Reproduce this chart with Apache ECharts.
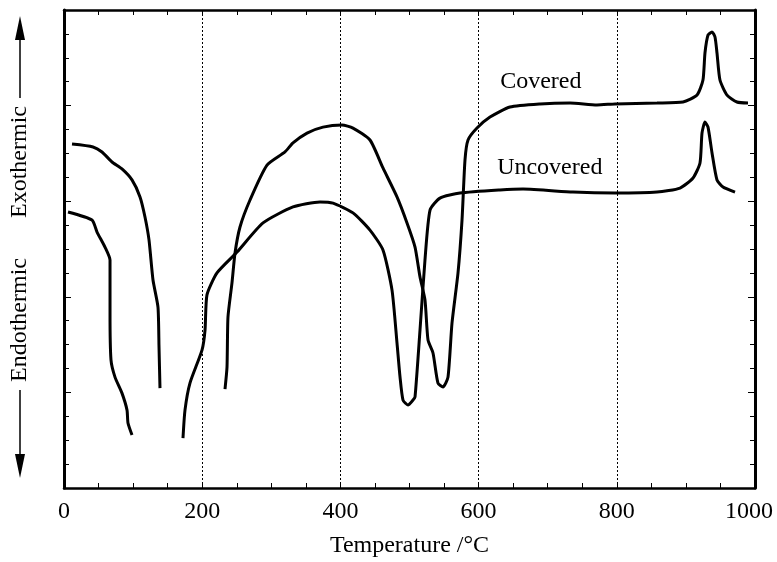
<!DOCTYPE html>
<html>
<head>
<meta charset="utf-8">
<script src="https://cdn.jsdelivr.net/npm/echarts@6/dist/echarts.min.js"></script>
<style>
  html, body { margin: 0; padding: 0; background: #fff; }
  #chart { width: 777px; height: 562px; }
</style>
</head>
<body>
<div id="chart"></div>
<script>
// DTA curves: [temperature °C, signal (arbitrary units)]
const coveredLow = [
  [11.6, 14.39], [42, 14.27], [55, 14.06], [69.5, 13.64], [83.9, 13.35],
  [98.4, 12.89], [110, 12.18], [117.2, 11.34], [123, 10.38], [128.8, 8.7],
  [136, 7.57], [137.5, 5.9], [138.9, 4.18]
];
const coveredHigh = [
  [233, 4.14], [235.9, 5.06], [237.3, 7.15], [243.1, 8.58], [247.5, 9.83],
  [254.7, 10.92], [269.2, 12.05], [293.8, 13.51], [319.8, 14.06], [331.4, 14.44],
  [351.7, 14.85], [374.8, 15.1], [402.3, 15.19], [418.2, 15.06], [442.8, 14.56],
  [461.6, 13.39], [481.9, 12.18], [496.4, 11.09], [508, 10.08], [515.2, 8.83],
  [522.4, 7.87], [526.8, 6.19], [534, 5.65], [541.2, 4.39], [548.5, 4.23],
  [555.7, 4.64], [561.5, 6.9], [570.2, 9.0], [576, 11.21], [580.3, 13.72],
  [584.7, 14.56], [597.7, 15.06], [616.5, 15.52], [645.4, 15.94], [688.9, 16.07],
  [732.3, 16.11], [771.3, 16.03], [797.4, 16.07], [858.2, 16.11], [895.8, 16.15],
  [916.1, 16.44], [924.7, 17.07], [927.6, 18.2], [932, 18.95], [937.8, 19.08],
  [942.1, 18.87], [945, 18.2], [949.3, 17.07], [959.5, 16.44], [973.9, 16.15],
  [989.9, 16.11]
];
const uncoveredLow = [
  [5.8, 11.55], [40.5, 11.21], [47.8, 10.71], [59.3, 10.08], [66.6, 9.54],
  [66.6, 7.32], [68, 5.36], [73.8, 4.64], [83.9, 3.97], [91.2, 3.26],
  [92.6, 2.72], [98.4, 2.22]
];
const uncoveredHigh = [
  [172.2, 2.09], [175.1, 3.26], [182.3, 4.39], [199.7, 5.77], [204.1, 6.61],
  [206.9, 8.08], [221.4, 9.0], [250.4, 9.87], [288, 11.09], [331.4, 11.76],
  [370.5, 11.97], [389.3, 11.92], [418.2, 11.51], [442.8, 10.79], [461.6, 9.96],
  [474.7, 8.28], [481.9, 6.07], [486.3, 4.64], [490.6, 3.68], [497.8, 3.47],
  [505.1, 3.68], [508, 3.81], [515.2, 6.61], [522.4, 9.54], [529.7, 11.63],
  [544.1, 12.13], [573.1, 12.34], [631, 12.47], [664.3, 12.51], [736.6, 12.38],
  [797.4, 12.34], [858.2, 12.38], [891.5, 12.55], [910.3, 12.97], [920.4, 13.6],
  [923.3, 14.85], [927.6, 15.31], [932, 15.1], [937.8, 14.02], [945, 12.89],
  [953.7, 12.59], [971.1, 12.38]
];
const curveLabels = [
  { name: 'Covered', value: [690, 17.0] },
  { name: 'Uncovered', value: [703, 13.4] }
];
const xTicks = { min: 0, max: 1000, step: 200 };
const yTicks = { min: 0, max: 20, step: 4 };

const serif = '"Liberation Serif", "Times New Roman", serif';
const chart = echarts.init(document.getElementById('chart'), null, { renderer: 'canvas' });

const frameX = (pos, showLabels) => ({
  type: 'value', position: pos, min: xTicks.min, max: xTicks.max, interval: xTicks.step,
  axisLine: { show: true, onZero: false, lineStyle: { color: '#000', width: 2.5 } },
  axisTick: { show: true, inside: true, length: 6, lineStyle: { color: '#000', width: 1 } },
  minorTick: { show: true, splitNumber: 4, length: 5, lineStyle: { color: '#000', width: 1 } },
  axisLabel: {
    show: showLabels, color: '#000', fontFamily: serif, fontSize: 24, margin: 12,
    // last label sits a little left so it is not cut at the page edge
    formatter: (v) => (v === xTicks.max ? '{e|' + v + '}' : String(v)),
    rich: { e: { color: '#000', fontFamily: serif, fontSize: 24, padding: [0, 12, 0, 0] } }
  },
  splitLine: { show: showLabels, lineStyle: { color: '#000', type: [2, 2], width: 1 } },
  minorSplitLine: { show: false }
});
const frameY = (pos) => ({
  type: 'value', position: pos, min: yTicks.min, max: yTicks.max, interval: yTicks.step,
  axisLine: { show: true, onZero: false, lineStyle: { color: '#000', width: 3 } },
  axisTick: { show: true, inside: true, length: 7, lineStyle: { color: '#000', width: 1 } },
  minorTick: { show: true, splitNumber: 4, length: 5, lineStyle: { color: '#000', width: 1 } },
  axisLabel: { show: false },
  splitLine: { show: false }
});

const curve = (data) => ({
  type: 'line', data, showSymbol: false, smooth: 0.2, silent: true,
  lineStyle: { color: '#000', width: 3 }
});

const bottomX = frameX('bottom', true);
bottomX.name = 'Temperature /°C';
bottomX.nameLocation = 'middle';
bottomX.nameGap = 46;
bottomX.nameTextStyle = { color: '#000', fontFamily: serif, fontSize: 24 };

chart.setOption({
  animation: false,
  backgroundColor: '#fff',
  grid: { left: 64, right: 22, top: 10, bottom: 74, containLabel: false, outerBoundsMode: 'none' },
  xAxis: [bottomX, frameX('top', false)],
  yAxis: [frameY('left'), frameY('right')],
  series: [
    curve(coveredLow), curve(coveredHigh), curve(uncoveredLow), curve(uncoveredHigh),
    {
      type: 'scatter', data: curveLabels, symbolSize: 0, silent: true,
      itemStyle: { opacity: 1 },
      label: {
        show: true, position: 'inside', formatter: '{b}',
        color: '#000', fontFamily: serif, fontSize: 24
      }
    }
  ],
  graphic: [
    // Exothermic / Endothermic direction arrows on the left
    { type: 'text', x: 20, y: 162, rotation: Math.PI / 2,
      style: { text: 'Exothermic', font: '24px ' + serif, fill: '#000', align: 'center', verticalAlign: 'middle' } },
    { type: 'text', x: 20, y: 320, rotation: Math.PI / 2,
      style: { text: 'Endothermic', font: '24px ' + serif, fill: '#000', align: 'center', verticalAlign: 'middle' } },
    { type: 'line', shape: { x1: 20, y1: 36, x2: 20, y2: 98 }, style: { stroke: '#000', lineWidth: 1.5 } },
    { type: 'polygon', shape: { points: [[20, 16], [15, 40], [25, 40]] }, style: { fill: '#000' } },
    { type: 'line', shape: { x1: 20, y1: 390, x2: 20, y2: 458 }, style: { stroke: '#000', lineWidth: 1.5 } },
    { type: 'polygon', shape: { points: [[20, 478], [15, 454], [25, 454]] }, style: { fill: '#000' } }
  ]
});
</script>
</body>
</html>
